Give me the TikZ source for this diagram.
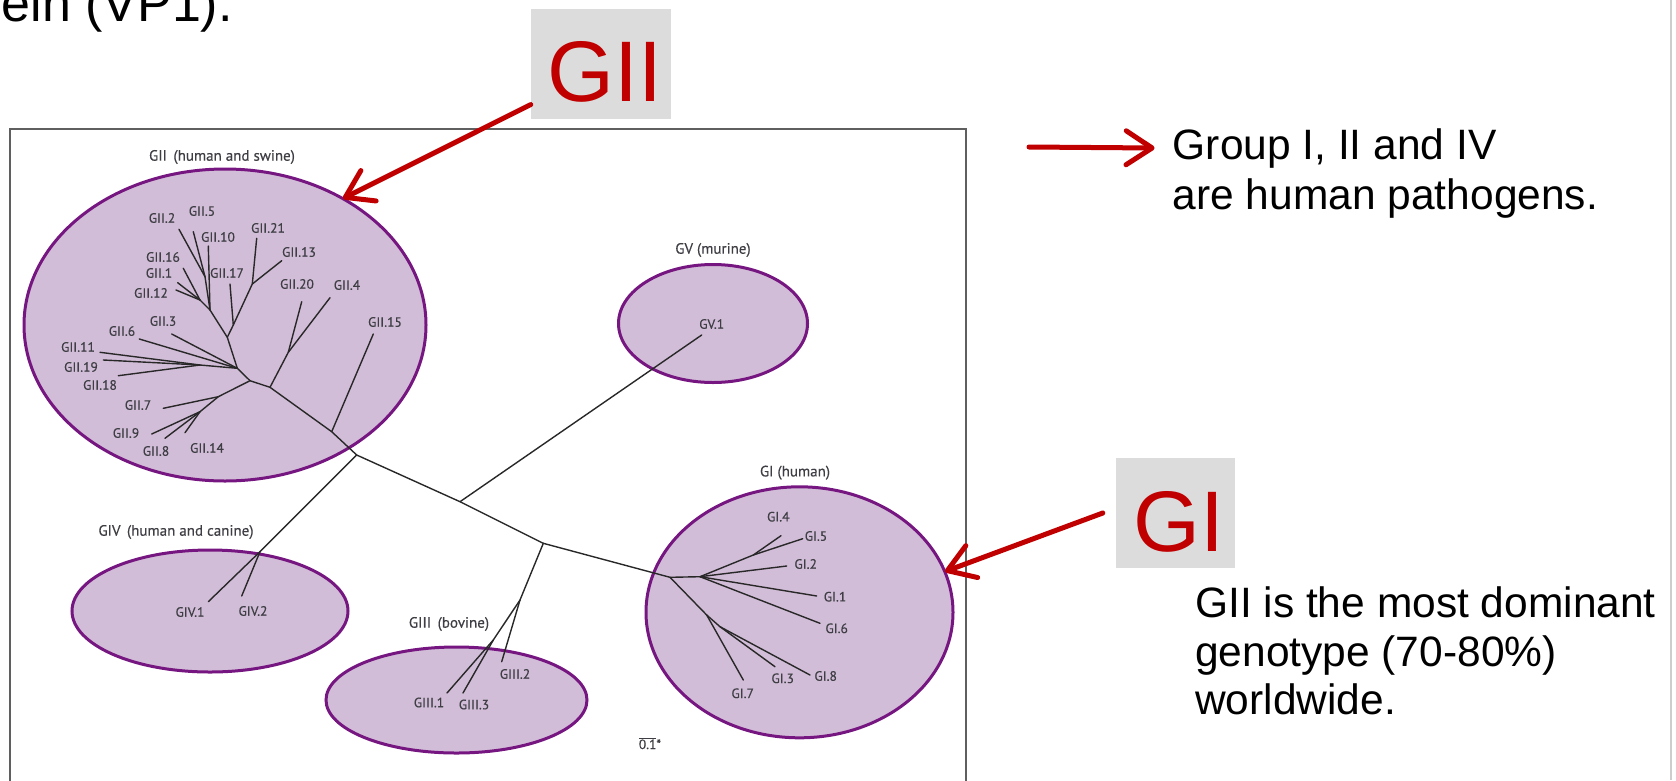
\documentclass[tikz,border=0pt]{standalone}
\usepackage{fontspec}
\setmainfont{Liberation Sans}
\newfontfamily\labfont[FakeBold=0.35]{PT Sans}
\usetikzlibrary{arrows.meta,shapes.geometric}
\definecolor{slidered}{RGB}{192,0,0}
\definecolor{boxgray}{RGB}{220,220,220}
\definecolor{ellfill}{RGB}{210,189,216}
\definecolor{elldraw}{RGB}{118,22,128}
\definecolor{treeline}{RGB}{40,40,40}
\definecolor{labgray}{RGB}{62,62,68}
\definecolor{framegray}{RGB}{95,95,95}
\definecolor{edgegray}{RGB}{205,205,205}
\tikzset{
  clade/.style={ellipse, draw=elldraw, fill=ellfill, line width=3pt, inner sep=0pt},
  branch/.style={draw=treeline, line width=1.4pt, line cap=round},
  leaf/.style={font=\labfont\fontsize{13.5}{14}\selectfont, text=labgray, inner sep=0pt},
  cladelabel/.style={font=\labfont\fontsize{15}{16}\selectfont, text=labgray, inner sep=0pt},
  gbox/.style={fill=boxgray, inner sep=0pt},
  bigred/.style={text=slidered, font=\fontsize{86}{90}\selectfont, inner sep=0pt, anchor=base},
  slidetext/.style={font=\fontsize{42.5}{50}\selectfont, inner sep=0pt, anchor=base west},
  redarrow/.style={draw=slidered, line width=5pt, line cap=round, -{Straight Barb[length=26pt,width=34pt,round]}}
}
\begin{document}
\begin{tikzpicture}[x=1pt,y=-1pt]
\useasboundingbox (0,0) rectangle (1676,780);
\clip (0,0) rectangle (1676,780);

% slide title remnant (cut at the top edge, as in the slide)
\node[anchor=base east, inner sep=0pt, font=\fontsize{52}{60}\selectfont] (title) at (233,21.7) {ein (VP1).};

% frame of the figure
\coordinate (fbl) at (10,800);
\coordinate (ftl) at (10,129);
\coordinate (ftr) at (966,129);
\coordinate (fbr) at (966,800);
\draw[framegray, line width=2.5pt] (fbl) -- (ftl) -- (ftr) -- (fbr);
% slide right edge
\coordinate (et) at (1671,0);
\coordinate (eb) at (1671,780);
\draw[edgegray, line width=1.5pt] (et) -- (eb);

% clade ellipses
\node[clade, minimum width=402pt, minimum height=312pt] (eGII) at (225,325) {};
\node[clade, minimum width=189pt, minimum height=118pt] (eGV) at (713,323.5) {};
\node[clade, minimum width=276pt, minimum height=122pt] (eGIV) at (210,611) {};
\node[clade, minimum width=261pt, minimum height=106pt] (eGIII) at (456.5,700) {};
\node[clade, minimum width=307pt, minimum height=251pt] (eGI) at (799.5,612.3) {};

% clade labels
\node[cladelabel] (tGII) at (222,157) {GII\, (human and swine)};
\node[cladelabel] (tGV) at (713,250) {GV (murine)};
\node[cladelabel] (tGIV) at (176,532) {GIV\, (human and canine)};
\node[cladelabel] (tGIII) at (449,624) {GIII\, (bovine)};
\node[cladelabel] (tGI) at (795,472.7) {GI (human)};

% ---- tree coordinates ----
% backbone
\coordinate (J6) at (237.3,368.3);
\coordinate (J7) at (250,380.7);
\coordinate (J20) at (270,387.3);
\coordinate (J15) at (331.7,431.7);
\coordinate (R1) at (356.7,455);
\coordinate (J5) at (460,501.7);
\coordinate (J3) at (543.3,543.3);
\coordinate (G0) at (670,577.3);
% GII internal
\coordinate (L15) at (373.3,334);
\coordinate (N20) at (288.3,352.3);
\coordinate (L20) at (301.7,301.7);
\coordinate (L4) at (330,297.7);
\coordinate (N7) at (218.3,396.7);
\coordinate (L7) at (163.3,408.3);
\coordinate (N9) at (200,411.7);
\coordinate (L9) at (151.7,434);
\coordinate (L8) at (165,438.3);
\coordinate (L14) at (185,432.7);
\coordinate (N11) at (200,365);
\coordinate (L11) at (100,352.3);
\coordinate (L19) at (103.3,360);
\coordinate (L18) at (118.3,375.7);
\coordinate (L6) at (139.3,339);
\coordinate (L3) at (171.7,334);
\coordinate (J17) at (227.3,337.3);
\coordinate (N17) at (233.3,325);
\coordinate (L17) at (230,284);
\coordinate (N21) at (252.3,284);
\coordinate (L21) at (256.7,238.3);
\coordinate (L13) at (281.7,260.7);
\coordinate (N10) at (210,310);
\coordinate (L10) at (208.3,246);
\coordinate (N5) at (205,276.7);
\coordinate (L5) at (193.3,231.7);
\coordinate (L2) at (179,229.3);
\coordinate (N16) at (200,300);
\coordinate (L16) at (183.3,268.3);
\coordinate (L1) at (177.7,282.7);
\coordinate (L12) at (176,290);
% GIV
\coordinate (V0) at (260,551.7);
\coordinate (LV1) at (208.3,601.7);
\coordinate (LV2) at (241.7,596);
% GV
\coordinate (LGV1) at (701.7,335);
% GIII
\coordinate (M0) at (520,600);
\coordinate (M1) at (493.3,640);
\coordinate (LM2) at (501.7,661.7);
\coordinate (LM1) at (447,693);
\coordinate (LM3) at (463,693);
% GI
\coordinate (G1) at (700,576.7);
\coordinate (GIa) at (753.3,555);
\coordinate (LGI4) at (781,535.7);
\coordinate (LGI5) at (802.7,538.7);
\coordinate (LGI2) at (786.7,566);
\coordinate (LGI1) at (816.7,596);
\coordinate (LGI6) at (820,623.3);
\coordinate (G2) at (706.7,615);
\coordinate (LGI7) at (743.3,680);
\coordinate (G3) at (720,626.7);
\coordinate (LGI3) at (775,666.7);
\coordinate (LGI8) at (810,675);

% ---- branches ----
\draw[branch] (J6) -- (J7) -- (J20) -- (J15) -- (R1) -- (J5) -- (J3) -- (G0);
\draw[branch] (J15) -- (L15);
\draw[branch] (J20) -- (N20) -- (L4);
\draw[branch] (N20) -- (L20);
\draw[branch] (J7) -- (N7) -- (L7);
\draw[branch] (N7) -- (N9) -- (L9);
\draw[branch] (N9) -- (L8);
\draw[branch] (N9) -- (L14);
\draw[branch] (J6) -- (N11) -- (L11);
\draw[branch] (N11) -- (L19);
\draw[branch] (N11) -- (L18);
\draw[branch] (J6) -- (L6);
\draw[branch] (J6) -- (L3);
\draw[branch] (J6) -- (J17) -- (N17) -- (L17);
\draw[branch] (N17) -- (N21) -- (L21);
\draw[branch] (N21) -- (L13);
\draw[branch] (J17) -- (N10) -- (L10);
\draw[branch] (N10) -- (N5) -- (L5);
\draw[branch] (N5) -- (L2);
\draw[branch] (N10) -- (N16) -- (L16);
\draw[branch] (N16) -- (L1);
\draw[branch] (N16) -- (L12);
\draw[branch] (R1) -- (V0) -- (LV1);
\draw[branch] (V0) -- (LV2);
\draw[branch] (J5) -- (LGV1);
\draw[branch] (J3) -- (M0) -- (LM2);
\draw[branch] (M0) -- (M1) -- (LM1);
\draw[branch] (M1) -- (LM3);
\draw[branch] (G0) -- (G1) -- (GIa) -- (LGI4);
\draw[branch] (GIa) -- (LGI5);
\draw[branch] (G1) -- (LGI2);
\draw[branch] (G1) -- (LGI1);
\draw[branch] (G1) -- (LGI6);
\draw[branch] (G0) -- (G2) -- (LGI7);
\draw[branch] (G2) -- (G3) -- (LGI3);
\draw[branch] (G3) -- (LGI8);

% ---- leaf labels ----
\node[leaf] (nGII2) at (162,218) {GII.2};
\node[leaf] (nGII5) at (202,211) {GII.5};
\node[leaf] (nGII10) at (218,237) {GII.10};
\node[leaf] (nGII21) at (268,228) {GII.21};
\node[leaf] (nGII13) at (299,252) {GII.13};
\node[leaf] (nGII16) at (163,257) {GII.16};
\node[leaf] (nGII1) at (159,273) {GII.1};
\node[leaf] (nGII17) at (227,273) {GII.17};
\node[leaf] (nGII12) at (151,293) {GII.12};
\node[leaf] (nGII20) at (297,284) {GII.20};
\node[leaf] (nGII4) at (347,285) {GII.4};
\node[leaf] (nGII3) at (163,321) {GII.3};
\node[leaf] (nGII6) at (122,331) {GII.6};
\node[leaf] (nGII15) at (385,322) {GII.15};
\node[leaf] (nGII11) at (78,347) {GII.11};
\node[leaf] (nGII19) at (81,367) {GII.19};
\node[leaf] (nGII18) at (100,385) {GII.18};
\node[leaf] (nGII7) at (138,405) {GII.7};
\node[leaf] (nGII9) at (126,433) {GII.9};
\node[leaf] (nGII8) at (156,451) {GII.8};
\node[leaf] (nGII14) at (207,448) {GII.14};
\node[leaf] (nGV1) at (711.7,324) {GV.1};
\node[leaf] (nGIV1) at (190,612) {GIV.1};
\node[leaf] (nGIV2) at (253,611) {GIV.2};
\node[leaf] (nGIII1) at (429,702.5) {GIII.1};
\node[leaf] (nGIII3) at (474,704.5) {GIII.3};
\node[leaf] (nGIII2) at (515,674) {GIII.2};
\node[leaf] (nGI4) at (778.3,516.7) {GI.4};
\node[leaf] (nGI5) at (816,536) {GI.5};
\node[leaf] (nGI2) at (805.7,564) {GI.2};
\node[leaf] (nGI1) at (835,596.7) {GI.1};
\node[leaf] (nGI6) at (836.7,628.3) {GI.6};
\node[leaf] (nGI8) at (825.7,676) {GI.8};
\node[leaf] (nGI3) at (782.7,678.3) {GI.3};
\node[leaf] (nGI7) at (742.7,693.3) {GI.7};
\node[leaf] (nscale) at (650,743.3) {$\overline{\mbox{0.1}}$*};

% ---- callout boxes ----
\node[gbox, minimum width=139.7pt, minimum height=110.3pt] (GIIbox) at (600.8,64.2) {};
\node[bigred] (GIItext) at (605,101.7) {GII};
\node[gbox, minimum width=119pt, minimum height=110pt] (GIbox) at (1175.5,513) {};
\node[bigred] (GItext) at (1179,551) {GI};

% ---- red arrows ----
\coordinate (GIItip) at (343,198.5);
\coordinate (GItip) at (945,571.5);
\draw[redarrow] ([yshift=15pt]GIIbox.south west) -- (GIItip);
\draw[redarrow] ([xshift=-13pt]GIbox.west) -- (GItip);

% ---- slide text ----
\coordinate (ra0) at (1029,147);
\node[slidetext] (grp1) at (1172.6,159) {Group I, II and IV};
\node[slidetext] (grp2) at (1172.6,209) {are human pathogens.};
\draw[redarrow] (ra0) -- ([xshift=-18pt,yshift=11pt]grp1.base west);
\node[slidetext] (dom1) at (1195,617) {GII is the most dominant};
\node[slidetext] (dom2) at (1195,666) {genotype (70-80\%)};
\node[slidetext] (dom3) at (1195,714) {worldwide.};
\end{tikzpicture}
\end{document}
